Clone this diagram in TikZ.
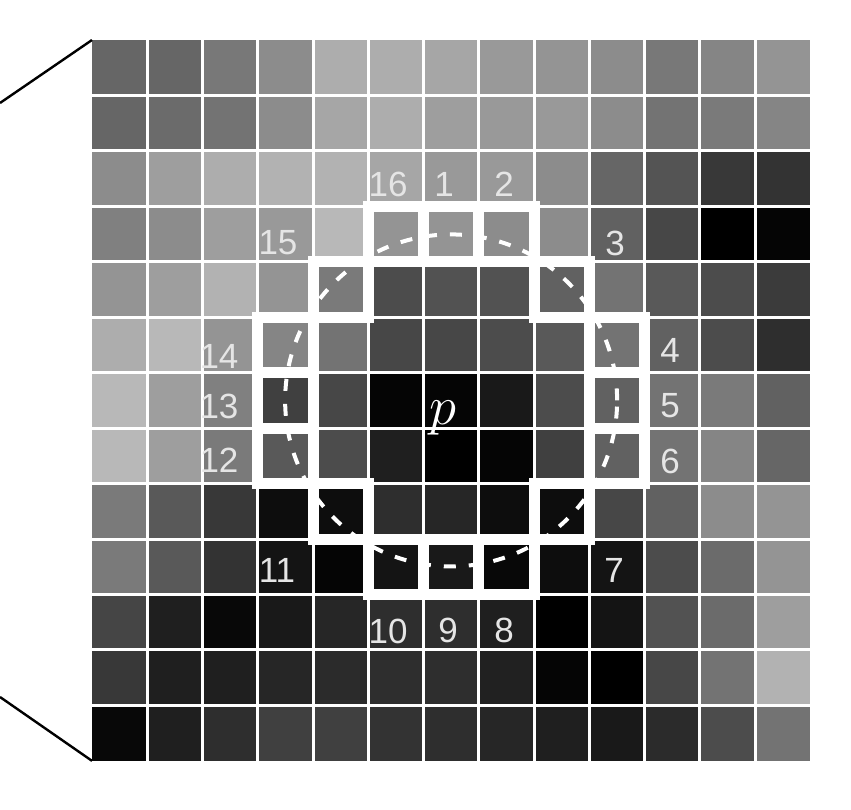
\documentclass[tikz,border=0pt]{standalone}
\usepackage{fontspec}
\setmainfont{Liberation Sans}
\definecolor{lbl}{gray}{0.9}
\begin{document}
\begin{tikzpicture}[x=1pt,y=-1pt,
  gridline/.style={white,line width=3pt},
  ringcell/.style={white,line width=11pt,line join=miter},
  dashcirc/.style={white,line width=4pt,dash pattern=on 12pt off 13pt},
  numlbl/.style={text=lbl,inner sep=0pt,anchor=center,font=\fontsize{35}{35}\selectfont},
  zoomline/.style={black,line width=2.4pt}]
\useasboundingbox (0,0) rectangle (851,810);
\def\gx{92}\def\gy{40}\def\sx{55.25}\def\sy{55.45}
% pixel cells
\foreach \rowvals [count=\r from 0] in {
 {60,60,53,45,32,32,35,40,42,45,53,48,42},
 {60,58,55,45,35,32,38,40,40,45,55,52,48},
 {45,38,32,30,30,35,40,40,45,60,67,78,80},
 {50,45,38,40,28,42,42,45,45,62,72,100,98},
 {42,38,30,42,52,70,68,68,62,55,65,70,77},
 {32,28,42,48,55,72,72,70,65,55,62,70,82},
 {28,38,50,75,72,98,98,90,70,62,55,52,62},
 {28,38,52,65,70,88,100,98,75,62,55,48,60},
 {52,65,78,95,95,82,85,95,95,72,62,45,42},
 {52,65,80,92,98,92,90,97,95,92,70,58,42},
 {73,88,97,90,85,82,82,88,100,92,68,58,38},
 {78,88,88,85,83,82,82,87,98,100,72,55,30},
 {97,88,82,75,75,80,82,85,88,90,83,70,55}}{
  \foreach \d [count=\c from 0] in \rowvals {
    \fill[black!\d] ({\gx+\c*\sx},{\gy+\r*\sy}) rectangle ++(\sx,\sy);
  }
}
% grid lines
\foreach \i in {1,...,12}{
  \draw[gridline] ({\gx+\i*\sx},\gy) -- ({\gx+\i*\sx},{\gy+13*\sy});
  \draw[gridline] (\gx,{\gy+\i*\sy}) -- ({\gx+13*\sx},{\gy+\i*\sy});
}
% dashed circle of radius 3
\coordinate (pc) at ({\gx+6.5*\sx},{\gy+6.5*\sy});
\draw[dashcirc] (pc) circle[radius=166pt];
% the 16 ring pixels
\foreach \c/\r in {6/3,7/3,8/4,9/5,9/6,9/7,8/8,7/9,6/9,5/9,4/8,3/7,3/6,3/5,4/4,5/3}{
  \draw[ringcell] ({\gx+\c*\sx},{\gy+\r*\sy}) rectangle ++(\sx,\sy);
}
% labels
\node[numlbl] (l16) at (388,184) {16};
\node[numlbl] (l1) at (444,184) {1};
\node[numlbl] (l2) at (504,184) {2};
\node[numlbl] (l3) at (615,243) {3};
\node[numlbl] (l4) at (670,350) {4};
\node[numlbl] (l5) at (670,406) {5};
\node[numlbl] (l6) at (670,461) {6};
\node[numlbl] (l7) at (614,570) {7};
\node[numlbl] (l8) at (504,630) {8};
\node[numlbl] (l9) at (448,630) {9};
\node[numlbl] (l10) at (388,631) {10};
\node[numlbl] (l11) at (277,570) {11};
\node[numlbl] (l12) at (219,460) {12};
\node[numlbl] (l13) at (219,406) {13};
\node[numlbl] (l14) at (219,356) {14};
\node[numlbl] (l15) at (278,243) {15};
\node[text=white,inner sep=0pt,anchor=base,scale=2.2] (pl) at (443,424) {\Huge$p$};
% zoom lines
\coordinate (gtl) at (\gx,\gy);
\coordinate (gbl) at (\gx,{\gy+13*\sy});
\coordinate (lt) at (0,103);
\coordinate (lb) at (0,697);
\draw[zoomline] (lt) -- (gtl);
\draw[zoomline] (lb) -- (gbl);
\end{tikzpicture}
\end{document}
